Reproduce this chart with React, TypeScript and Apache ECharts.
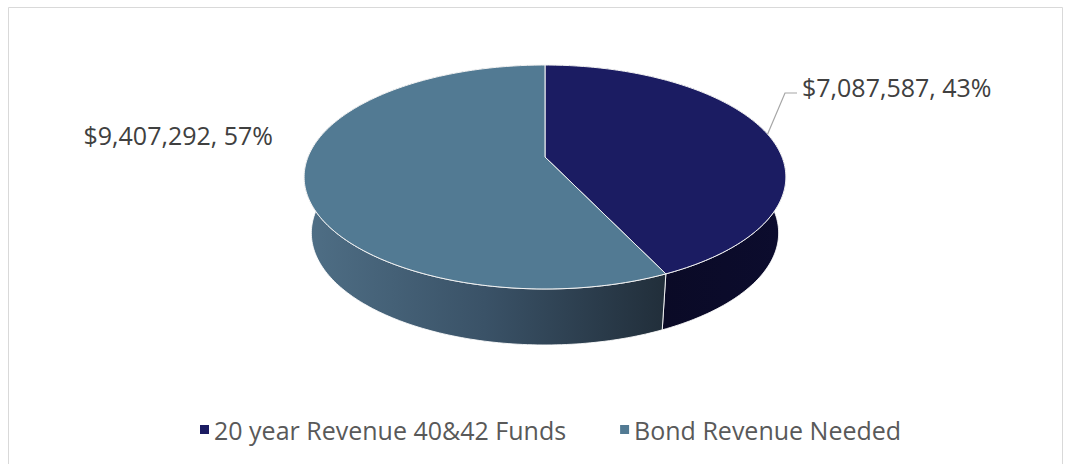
import React, { useEffect, useRef } from "react";
import * as echarts from "echarts";

const categories = ["20 year Revenue 40&42 Funds", "Bond Revenue Needed"];
const values = [7087587, 9407292];
const topColors = ["#1B1C62", "#527A93"];

const FONT = '"Open Sans", "Noto Sans", sans-serif';

export default function App() {
  const ref = useRef<HTMLDivElement>(null);
  useEffect(() => {
    document.body.style.margin = "0";
    const chart = echarts.init(ref.current!, null, { renderer: "svg" });
    const total = values.reduce((a, b) => a + b, 0);
    const starts: number[] = [];
    let acc = 0;
    values.forEach((v) => {
      starts.push((acc / total) * Math.PI * 2);
      acc += v;
    });

    // projection of the pie plane (perspective)
    const CX = 545, CY = 157, A = 237, B = 108.4, K = 0.1786, DEPTH = 56, SHRINK = 0.97;
    const topPt = (phi: number) => {
      const u = Math.sin(phi), v = -Math.cos(phi), w = 1 - K * v;
      return [CX + (A * u) / w, CY + (B * v) / w];
    };
    const botPt = (phi: number) => {
      const p = topPt(phi);
      return [CX + SHRINK * (p[0] - CX), p[1] + DEPTH];
    };
    const arc = (a0: number, a1: number, f: (p: number) => number[]) => {
      const n = Math.max(8, Math.ceil(((a1 - a0) / (Math.PI * 2)) * 360));
      const pts: number[][] = [];
      for (let i = 0; i <= n; i++) pts.push(f(a0 + ((a1 - a0) * i) / n));
      return pts;
    };

    const sideFills: any[] = [
      {
        type: "linear", x: 660, y: 0, x2: 790, y2: 0, global: true,
        colorStops: [
          { offset: 0, color: "#0A0A26" },
          { offset: 1, color: "#0C0C2E" },
        ],
      },
      {
        type: "linear", x: 303, y: 0, x2: 666, y2: 0, global: true,
        colorStops: [
          { offset: 0, color: "#4F6F86" },
          { offset: 0.5, color: "#3A5267" },
          { offset: 1, color: "#212E3A" },
        ],
      },
    ];
    const labelPos = [
      { x: 802, y: 87, align: "left" },
      { x: 273, y: 135, align: "right" },
    ];

    chart.setOption({
      animation: false,
      backgroundColor: "#ffffff",
      graphic: [
        {
          type: "rect",
          shape: { x: 8.5, y: 7.5, width: 1054, height: 480 },
          style: { fill: "none", stroke: "#D9D9D9", lineWidth: 1 },
          silent: true,
        },
      ],
      legend: {
        left: 200,
        top: 417,
        padding: 0,
        itemWidth: 9,
        itemHeight: 9,
        itemGap: 54,
        icon: "rect",
        data: categories,
        textStyle: { color: "#595959", fontSize: 25, fontFamily: FONT },
      },
      series: [
        {
          type: "pie",
          radius: [0, 0],
          silent: true,
          label: { show: false },
          labelLine: { show: false },
          data: categories.map((c, i) => ({ name: c, value: values[i], itemStyle: { color: topColors[i] } })),
        },
        {
          type: "custom",
          coordinateSystem: "none",
          data: categories.map((c, i) => ({ name: c, value: [values[i]] })),
          renderItem: (params: any, api: any) => {
            const i = params.dataIndex;
            const v = api.value(0) as number;
            const a0 = starts[i];
            const a1 = a0 + (v / total) * Math.PI * 2;
            const topArc = arc(a0, a1, topPt);
            const botArc = arc(a0, a1, botPt).reverse();
            const lp = labelPos[i];
            const children: any[] = [
              {
                type: "polygon",
                z2: 1,
                shape: { points: topArc.concat(botArc) },
                style: { fill: sideFills[i], stroke: "rgba(255,255,255,0.85)", lineWidth: 1 },
              },
              {
                type: "polygon",
                z2: 5,
                shape: { points: [[CX, CY]].concat(topArc) },
                style: { fill: topColors[i], stroke: "#F2F2F2", lineWidth: 1 },
              },
              {
                type: "text",
                z2: 10,
                style: {
                  text: `$${v.toLocaleString("en-US")}, ${Math.round((v / total) * 100)}%`,
                  x: lp.x,
                  y: lp.y,
                  align: lp.align,
                  verticalAlign: "middle",
                  fill: "#404040",
                  fontSize: 25,
                  fontFamily: FONT,
                },
              },
            ];
            if (i === 0) {
              const mid = topPt((a0 + a1) / 2);
              children.push({
                type: "polyline",
                z2: 10,
                shape: { points: [mid, [785, 93], [797, 93]] },
                style: { stroke: "#A6A6A6", lineWidth: 1.2, fill: "none" },
              });
            }
            return { type: "group", children };
          },
        },
      ],
    });
    return () => chart.dispose();
  }, []);
  return <div ref={ref} style={{ position: "fixed", left: 0, top: 0, width: 1065, height: 464 }} />;
}
